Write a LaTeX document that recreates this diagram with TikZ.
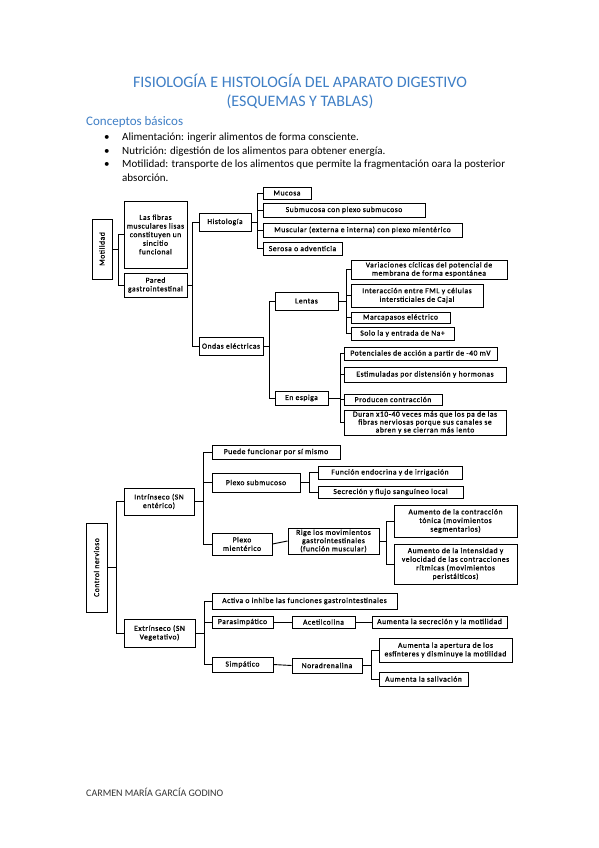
\documentclass[tikz,border=0pt]{standalone}
\usepackage{fontspec}
\setmainfont{Carlito}
\newfontfamily\boxfont[LetterSpace=7,FakeBold=1]{Carlito}
\definecolor{titleblue}{HTML}{3F7FC6}
\definecolor{footgray}{HTML}{333333}
\tikzset{
  box/.style={draw=black, line width=1pt, inner sep=0pt, align=center,
    font=\boxfont\fontsize{7.6}{8.6}\selectfont},
  link/.style={draw=black, line width=0.9pt},
  bullettext/.style={anchor=base west, inner sep=0pt, font=\fontsize{11}{13}\selectfont}
}
\newcommand{\bx}[7][]{\node[box,#1, minimum width={#5-#3}, minimum height={#6-#4}] (#2) at ({(#3+#5)/2},{(#4+#6)/2}) {#7};}
\begin{document}
\begin{tikzpicture}[x=1pt,y=-1pt]
\useasboundingbox[fill=white] (0,0) rectangle (599,848);
% titles
\node[anchor=base, inner sep=0pt, font=\fontsize{16}{19}\selectfont, text=titleblue] (t1) at (300,87.3) {FISIOLOGÍA E HISTOLOGÍA DEL APARATO DIGESTIVO};
\node[anchor=base, inner sep=0pt, font=\fontsize{16}{19}\selectfont, text=titleblue] (t2) at (300,106.7) {(ESQUEMAS Y TABLAS)};
\node[anchor=base west, inner sep=0pt, font=\fontsize{13}{15}\selectfont, text=titleblue] (cb) at (86,125) {Conceptos básicos};
\node[bullettext] (b1m) at (104,140) {•};
\node[bullettext] (b1) at (122,140) {Alimentación: ingerir alimentos de forma consciente.};
\node[bullettext] (b2m) at (104,154) {•};
\node[bullettext] (b2) at (122,154) {Nutrición: digestión de los alimentos para obtener energía.};
\node[bullettext] (b3m) at (104,167.5) {•};
\node[bullettext] (b3) at (122,167.5) {Motilidad: transporte de los alimentos que permite la fragmentación oara la posterior};
\node[bullettext] (b4) at (122,181) {absorción.};
\node[anchor=base west, inner sep=0pt, font=\fontsize{10}{12}\selectfont, text=footgray] (foot) at (86,796) {CARMEN MARÍA GARCÍA GODINO};

% ---------- Motilidad ----------
\node[box, rotate=90, minimum width=60, minimum height=20] (mot) at (102,249) {Motilidad};
\bx{fib}{124}{201}{187}{268}{Las fibras\\musculares lisas\\constituyen un\\sincitio\\funcional}
\bx{par}{124}{273}{187}{297}{Pared\\gastrointestinal}
\bx{hist}{199}{213}{251}{231}{Histología}
\bx{ond}{199}{337}{263}{355}{Ondas eléctricas}
\bx{muc}{263}{187}{311}{199}{Mucosa}
\bx{sub}{263}{203}{425}{217}{Submucosa con plexo submucoso}
\bx{mus}{263}{223}{462}{237}{Muscular (externa e interna) con plexo mientérico}
\bx{ser}{263}{242}{342}{255}{Serosa o adventicia}
\bx{len}{275}{292}{338}{310}{Lentas}
\bx[font=\boxfont\fontsize{7.6}{8.2}\selectfont]{var}{351}{260}{507}{279}{Variaciones cíclicas del potencial de\\membrana de forma espontánea}
\bx{inte}{351}{284}{483}{307}{Interacción entre FML y células\\intersticiales de Cajal}
\bx{mar}{351}{312}{450}{323}{Marcapasos eléctrico}
\bx{sol}{351}{327}{454}{340}{Solo la y entrada de Na+}
\bx{esp}{275}{391}{328}{405}{En espiga}
\bx{pot}{344}{347}{497}{360}{Potenciales de acción a partir de -40 mV}
\bx{est}{344}{367}{506}{382}{Estimuladas por distensión y hormonas}
\bx{pro}{344}{394}{442}{405}{Producen contracción}
\bx[font=\boxfont\fontsize{7.6}{7.9}\selectfont]{dur}{344}{410}{506}{435}{Duran x10-40 veces más que los pa de las\\fibras nerviosas porque sus canales se\\abren y se cierran más lento}

\coordinate (tm) at (118,0);
\coordinate (tp) at (192,0);
\coordinate (th) at (257,0);
\coordinate (to) at (269,0);
\coordinate (tl) at (346,0);
\coordinate (te) at (340,0);
\foreach \c in {fib,par} \draw[link] (mot.south) -- (mot.south -| tm) |- (\c.west);
\foreach \c in {hist,ond} \draw[link] (par.east) -- (par.east -| tp) |- (\c.west);
\foreach \c in {muc,sub,mus,ser} \draw[link] (hist.east) -- (hist.east -| th) |- (\c.west);
\foreach \c in {len,esp} \draw[link] (ond.east) -- (ond.east -| to) |- (\c.west);
\foreach \c in {var,inte,mar,sol} \draw[link] (len.east) -- (len.east -| tl) |- (\c.west);
\foreach \c in {pot,est,pro,dur} \draw[link] (esp.east) -- (esp.east -| te) |- (\c.west);

% ---------- Control nervioso ----------
\node[box, rotate=90, minimum width=89, minimum height=21] (cn) at (96.5,567.5) {Control nervioso};
\bx{intr}{124}{488}{194}{515}{Intrínseco (SN\\entérico)}
\bx{extr}{124}{619}{195}{647}{Extrínseco (SN\\Vegetativo)}
\bx{pue}{212}{445}{340}{459}{Puede funcionar por sí mismo}
\bx{psub}{212}{473}{300}{492}{Plexo submucoso}
\bx{fen}{318}{466}{462}{479}{Función endocrina y de irrigación}
\bx{sec}{318}{486}{463}{498}{Secreción y flujo sanguíneo local}
\bx{pmi}{212}{533}{272}{555}{Plexo\\mientérico}
\bx[font=\boxfont\fontsize{7.6}{8.2}\selectfont]{rig}{288}{528}{379}{554}{Rige los movimientos\\gastrointestinales\\(función muscular)}
\bx{aut}{394}{505}{517}{537}{Aumento de la contracción\\tónica (movimientos\\segmentarios)}
\bx{aui}{394}{544}{517}{584}{Aumento de la intensidad y\\velocidad de las contracciones\\rítmicas (movimientos\\peristálticos)}
\bx{act}{212}{593}{397}{609}{Activa o inhibe las funciones gastrointestinales}
\bx{para}{212}{616}{273}{628}{Parasimpático}
\bx{ace}{292}{616}{355}{628}{Acetilcolina}
\bx{asec}{372}{616}{507}{628}{Aumenta la secreción y la motilidad}
\bx{sim}{212}{657}{273}{672}{Simpático}
\bx{nor}{292}{658}{362}{673}{Noradrenalina}
\bx{aap}{379}{638}{512}{662}{Aumenta la apertura de los\\esfínteres y disminuye la motilidad}
\bx{asal}{379}{672}{468}{686}{Aumenta la salivación}

\coordinate (tc) at (116,0);
\coordinate (ti) at (203,0);
\coordinate (ts) at (309,0);
\coordinate (tr) at (386,0);
\coordinate (tx) at (204,0);
\coordinate (tn) at (371,0);
\foreach \c in {intr,extr} \draw[link] (cn.south) -- (cn.south -| tc) |- (\c.west);
\foreach \c in {pue,psub,pmi} \draw[link] (intr.east) -- (intr.east -| ti) |- (\c.west);
\foreach \c in {fen,sec} \draw[link] (psub.east) -- (psub.east -| ts) |- (\c.west);
\draw[link] (pmi.east) -- (rig.west);
\foreach \c in {aut,aui} \draw[link] (rig.east) -- (rig.east -| tr) |- (\c.west);
\foreach \c in {act,para,sim} \draw[link] (extr.east) -- (extr.east -| tx) |- (\c.west);
\draw[link] (para.east) -- (ace.west);
\draw[link] (ace.east) -- (asec.west);
\draw[link] (sim.east) -- (nor.west);
\foreach \c in {aap,asal} \draw[link] (nor.east) -- (nor.east -| tn) |- (\c.west);
\end{tikzpicture}
\end{document}
